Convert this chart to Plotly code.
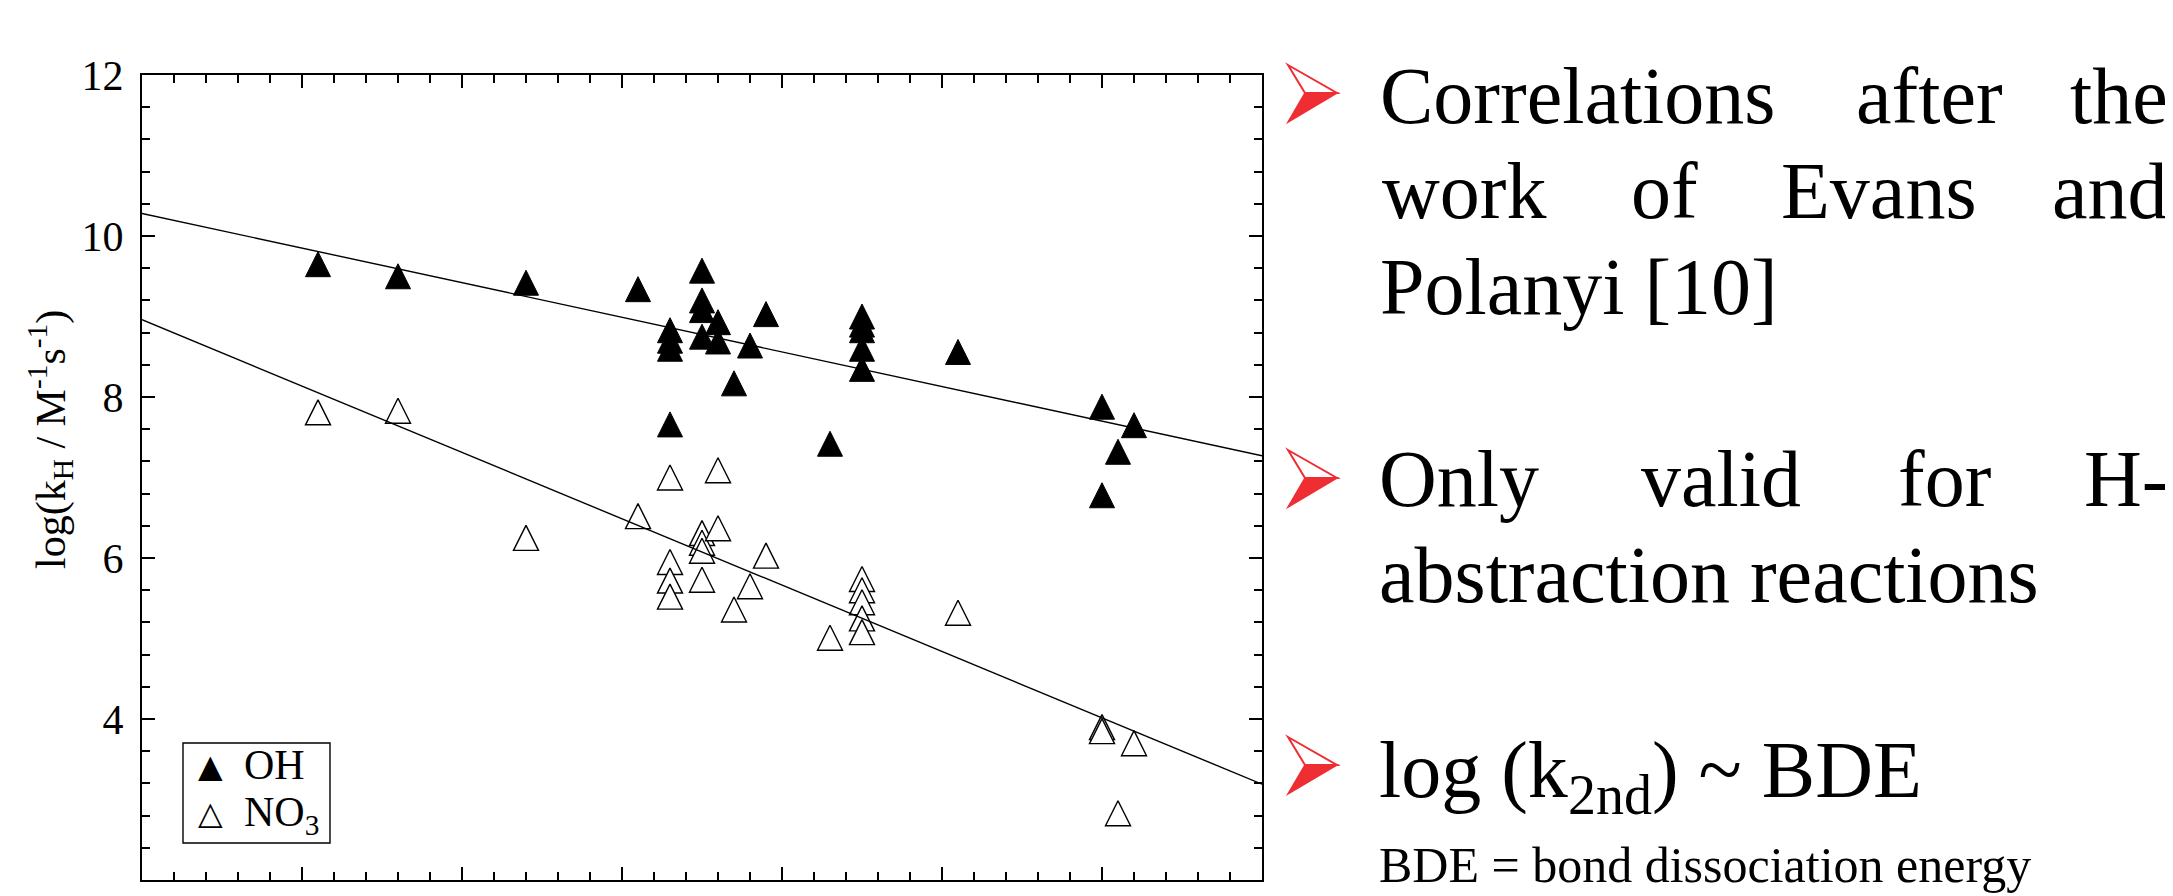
import plotly.graph_objects as go

# ---------------- data ----------------
oh_bde = [322, 332, 348, 362, 370, 370, 370, 372, 378, 366, 366, 366, 370, 372,
          376, 390, 390, 390, 390, 390, 402, 374, 366, 386, 420, 424, 422, 420]
oh_logk = [9.60, 9.45, 9.37, 9.29, 9.52, 9.15, 9.03, 8.88, 8.98, 8.78, 8.65, 8.55, 8.70, 8.64,
           8.59, 8.95, 8.85, 8.78, 8.55, 8.30, 8.51, 8.12, 7.61, 7.37, 7.83, 7.60, 7.27, 6.73]

no3_bde = [322, 332, 366, 372, 348, 362, 370, 370, 370, 372, 378, 366, 366, 366,
           370, 376, 374, 390, 390, 390, 390, 390, 386, 402, 420, 420, 424, 422]
no3_logk = [7.76, 7.78, 6.95, 7.04, 6.20, 6.47, 6.26, 6.14, 6.04, 6.32, 5.98, 5.90, 5.67, 5.47,
            5.68, 5.60, 5.31, 5.69, 5.55, 5.40, 5.20, 5.03, 4.96, 5.27, 3.85, 3.80, 3.65, 2.78]

fit_bde = [300, 440]
oh_fit = [10.28, 7.27]
no3_fit = [8.96, 3.19]

y_ticks = [2, 4, 6, 8, 10, 12]
y_ticktext = ["2", "4", "6", "8", "10", "12"]

# ---------------- layout geometry (reference pixels) ----------------
OFF = 8                      # page body margin of the html page
W, H = 2173 - OFF, 896 - OFF
PL, PR, PT, PB = 142, 1262, 75, 880
SERIF = "Liberation Serif"
RED = "#EE2E33"


def px(x):
    return (x - PL) / (PR - PL)


def py(y):
    return (PB - y) / (PB - PT)


fig = go.Figure()

tri = dict(symbol="arrow-down", angle=180, standoff=16.5, size=25)

fig.add_trace(go.Scatter(
    x=oh_bde, y=oh_logk, mode="markers", name="OH", showlegend=False,
    marker=dict(color="black", line=dict(color="black", width=1), **tri)))
fig.add_trace(go.Scatter(
    x=no3_bde, y=no3_logk, mode="markers", name="NO3", showlegend=False,
    marker=dict(color="white", line=dict(color="black", width=1.4), **tri)))
fig.add_trace(go.Scatter(
    x=fit_bde, y=oh_fit, mode="lines", showlegend=False,
    line=dict(color="black", width=1.4)))
fig.add_trace(go.Scatter(
    x=fit_bde, y=no3_fit, mode="lines", showlegend=False,
    line=dict(color="black", width=1.4)))

axis_common = dict(
    showline=True, linecolor="black", linewidth=2.2, mirror="ticks",
    ticks="inside", ticklen=13, tickwidth=2, tickcolor="black",
    showgrid=False, zeroline=False,
)

fig.update_xaxes(
    range=[300, 440], tick0=300, dtick=20, showticklabels=False,
    minor=dict(ticks="inside", ticklen=8, tickwidth=1.5, tickcolor="black",
               dtick=4, showgrid=False),
    **axis_common)
fig.update_yaxes(
    range=[2, 12], tickvals=y_ticks, ticktext=y_ticktext,
    tickfont=dict(family=SERIF, size=42, color="black"),
    ticklabelstandoff=8,
    minor=dict(ticks="inside", ticklen=8, tickwidth=1.5, tickcolor="black",
               dtick=0.4, tick0=2, showgrid=False),
    **axis_common)

ann = []


def text(t, x, y, size=80, xanchor="left", family=SERIF, color="black", angle=0):
    ann.append(dict(text=t, x=px(x), y=py(y), xref="paper", yref="paper",
                    xanchor=xanchor, yanchor="middle", showarrow=False,
                    textangle=angle,
                    font=dict(family=family, size=size, color=color)))


# y-axis title
text("log(k<sub>H</sub> / M<sup>-1</sup>s<sup>-1</sup>)", 50, 440, size=42,
     xanchor="center", angle=-90)

# bullet 1 (justified)
text("Correlations", 1378, 96)
text("after", 1854, 96)
text("the", 2170, 96, xanchor="right")
text("work", 1380, 191)
text("of", 1629, 191)
text("Evans", 1779, 191)
text("and", 2170, 191, xanchor="right")
text("Polanyi [10]", 1378, 287)

# bullet 2
text("Only", 1377, 479)
text("valid", 1639, 479)
text("for", 1896, 479)
text("H-", 2170, 479, xanchor="right")
text("abstraction reactions", 1377, 575)

# bullet 3
text("log (k<sub>2nd</sub>) ~ BDE", 1377, 776)
text("BDE = bond dissociation energy", 1377, 865, size=50)

# legend
text("\u25B2", 210, 766, size=32, xanchor="center", family="DejaVu Sans")
text("OH", 242, 765, size=42)
text("\u25B3", 210, 813, size=32, xanchor="center", family="DejaVu Sans")
text("NO<sub>3</sub>", 242, 815, size=42)

shapes = [dict(type="rect", xref="paper", yref="paper",
               x0=px(183), x1=px(330), y0=py(843), y1=py(743),
               line=dict(color="black", width=1.4), fillcolor="rgba(0,0,0,0)")]


def path(pts):
    return "M " + " L ".join(f"{px(a):.5f},{py(b):.5f}" for a, b in pts) + " Z"


# red arrowhead bullets: light (outlined) upper half, filled lower half
for c in [93, 478, 765]:
    shapes.append(dict(type="path", xref="paper", yref="paper",
                       path=path([(1288, c - 28), (1337, c), (1305, c)]),
                       fillcolor="white", line=dict(color=RED, width=2)))
    shapes.append(dict(type="path", xref="paper", yref="paper",
                       path=path([(1305, c), (1337, c), (1288, c + 29)]),
                       fillcolor=RED, line=dict(color=RED, width=1.5)))

fig.update_layout(
    width=W, height=H, autosize=False,
    margin=dict(l=PL - OFF, r=W - (PR - OFF), t=PT - OFF, b=H - (PB - OFF), pad=0),
    paper_bgcolor="white", plot_bgcolor="white",
    font=dict(family=SERIF, color="black"),
    annotations=ann, shapes=shapes,
)

fig.write_html("out.html")
